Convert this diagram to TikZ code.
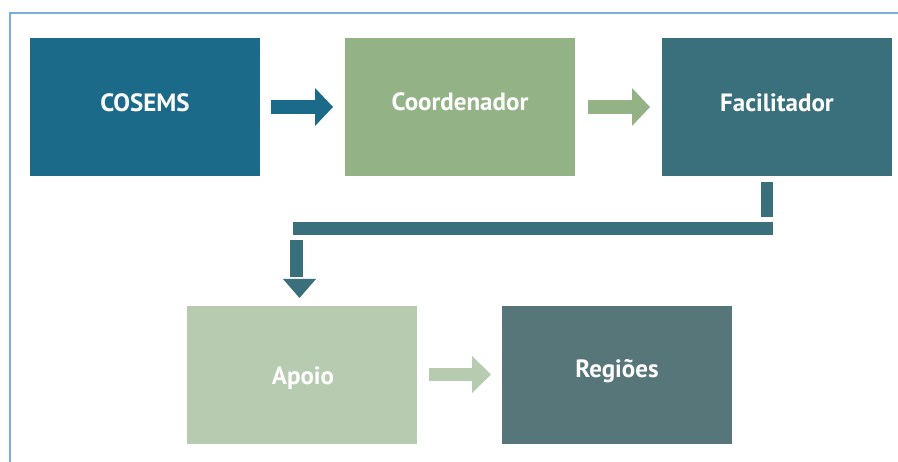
\documentclass[tikz,border=0pt]{standalone}
\usepackage{fontspec}
\setmainfont{PT Sans}
\definecolor{cosems}{HTML}{1C6A89}
\definecolor{coord}{HTML}{93B386}
\definecolor{facil}{HTML}{3A6F7C}
\definecolor{apoio}{HTML}{B7CBB0}
\definecolor{regioes}{HTML}{56767A}
\definecolor{frame}{HTML}{7AAEDC}
\begin{document}
\begin{tikzpicture}[x=1pt,y=-1pt,
  boxlabel/.style={text=white,font=\fontsize{25}{28}\selectfont\bfseries,inner sep=0pt,anchor=base}]
\useasboundingbox (0,0) rectangle (898,462);
\fill[white] (0,0) rectangle (898,462);
% frame
\draw[frame,line width=2pt] (10,462) -- (10,13) -- (898,13);
% boxes
\fill[cosems] (30,38) rectangle (260,176);
\fill[coord] (345,38) rectangle (575,176);
\fill[facil] (662,38) rectangle (892,176);
\fill[apoio] (187,306) rectangle (417,444);
\fill[regioes] (502,306) rectangle (732,444);
\node[boxlabel] (t1) at (145,112) {COSEMS};
\node[boxlabel] (t2) at (460,111) {Coordenador};
\node[boxlabel] (t3) at (777,112) {Facilitador};
\node[boxlabel] (t4) at (303,385) {Apoio};
\node[boxlabel] (t5) at (617,378) {Regiões};
% arrows (block style)
\fill[cosems] (271,100) rectangle (316,114);
\fill[cosems] (315,88) -- (333,107) -- (315,126) -- cycle;
\fill[coord] (588,100) rectangle (633,114);
\fill[coord] (632,88) -- (650,107) -- (632,126) -- cycle;
\fill[apoio] (429,368) rectangle (473,381);
\fill[apoio] (472,356) -- (491,374.5) -- (472,393) -- cycle;
% connector Facilitador -> Apoio
\fill[facil] (761,182) rectangle (773,217);
\fill[facil] (293,222) rectangle (773,235);
\fill[facil] (290,240) rectangle (303,277);
\fill[facil] (283,279) -- (316,279) -- (299.5,298) -- cycle;
\end{tikzpicture}
\end{document}
